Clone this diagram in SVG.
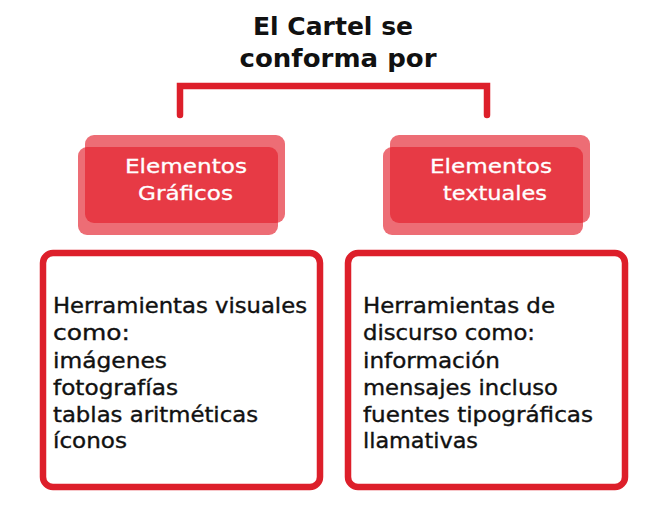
<svg xmlns="http://www.w3.org/2000/svg" width="664" height="513" viewBox="0 0 664 513">
<style>
.title{font-family:"DejaVu Sans","Noto Sans",sans-serif;font-weight:700;font-size:25px;fill:#111;text-anchor:middle}
.hd{font-family:"DejaVu Sans","Noto Sans",sans-serif;font-size:20px;fill:#fff;stroke:#fff;stroke-width:0.3;text-anchor:middle}
.bd{font-family:"DejaVu Sans","Noto Sans",sans-serif;font-size:20.5px;fill:#111;stroke:#111;stroke-width:0.35}
.lay{fill:#e31e2b;fill-opacity:0.65}
.box{fill:#fff;stroke:#dd1f2a;stroke-width:6.5}
.conn{fill:none;stroke:#dd1f2a;stroke-width:6.5;stroke-linecap:round;stroke-linejoin:miter}
</style>
<rect width="664" height="513" fill="#fff"/>
<g id="title">
<text class="title" x="333" y="35" textLength="160" lengthAdjust="spacingAndGlyphs">El Cartel se</text>
<text class="title" x="338" y="67" textLength="197" lengthAdjust="spacingAndGlyphs">conforma por</text>
</g>
<g id="connectors">
<path class="conn" d="M180,115 V86 H487 V115"/>
</g>
<g id="graficos">
<rect class="lay" x="85" y="135" width="200" height="88" rx="9"/>
<rect class="lay" x="78" y="147" width="200" height="88" rx="9"/>
<text class="hd" x="186" y="173" textLength="122" lengthAdjust="spacingAndGlyphs">Elementos</text>
<text class="hd" x="185.5" y="200" textLength="95" lengthAdjust="spacingAndGlyphs">Gráficos</text>
</g>
<g id="textuales">
<rect class="lay" x="390" y="135" width="200" height="88" rx="9"/>
<rect class="lay" x="383" y="147" width="200" height="88" rx="9"/>
<text class="hd" x="491" y="173" textLength="122" lengthAdjust="spacingAndGlyphs">Elementos</text>
<text class="hd" x="495" y="200" textLength="104" lengthAdjust="spacingAndGlyphs">textuales</text>
</g>
<g id="visuales">
<rect class="box" x="43" y="253" width="277" height="234" rx="10"/>
<text class="bd" x="53" y="313" textLength="254" lengthAdjust="spacingAndGlyphs">Herramientas visuales</text>
<text class="bd" x="53" y="340" textLength="77" lengthAdjust="spacingAndGlyphs">como:</text>
<text class="bd" x="53" y="368" textLength="114" lengthAdjust="spacingAndGlyphs">imágenes</text>
<text class="bd" x="53" y="395" textLength="125" lengthAdjust="spacingAndGlyphs">fotografías</text>
<text class="bd" x="53" y="422" textLength="205" lengthAdjust="spacingAndGlyphs">tablas aritméticas</text>
<text class="bd" x="53" y="448" textLength="74" lengthAdjust="spacingAndGlyphs">íconos</text>
</g>
<g id="discurso">
<rect class="box" x="348" y="253" width="277" height="234" rx="10"/>
<text class="bd" x="363" y="313" textLength="192" lengthAdjust="spacingAndGlyphs">Herramientas de</text>
<text class="bd" x="363" y="340" textLength="172" lengthAdjust="spacingAndGlyphs">discurso como:</text>
<text class="bd" x="363" y="368" textLength="137" lengthAdjust="spacingAndGlyphs">información</text>
<text class="bd" x="363" y="395" textLength="195" lengthAdjust="spacingAndGlyphs">mensajes incluso</text>
<text class="bd" x="363" y="422" textLength="230" lengthAdjust="spacingAndGlyphs">fuentes tipográficas</text>
<text class="bd" x="363" y="448" textLength="115" lengthAdjust="spacingAndGlyphs">llamativas</text>
</g>
</svg>
